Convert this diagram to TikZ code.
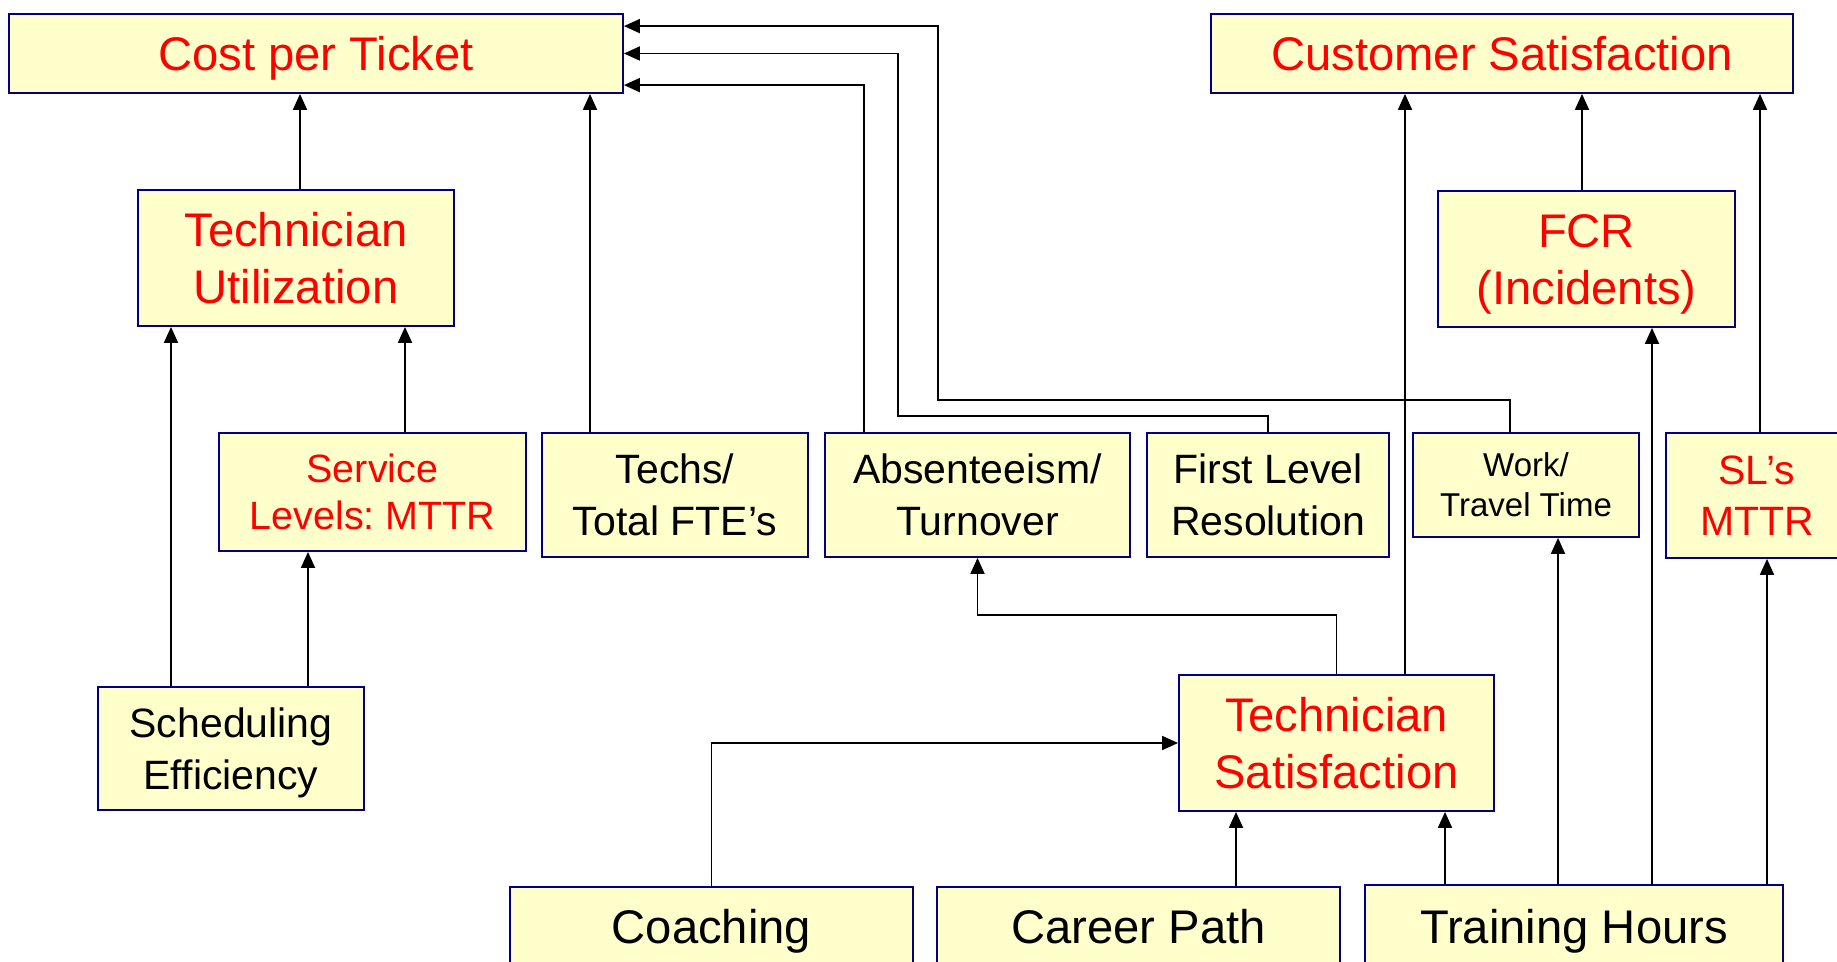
\documentclass[tikz,border=0pt]{standalone}
\usepackage{fontspec}
\setmainfont{Liberation Sans}
\usetikzlibrary{arrows.meta,calc}
\definecolor{boxfill}{HTML}{FFFFCC}
\definecolor{boxline}{HTML}{000080}
\definecolor{keyred}{HTML}{FF0000}
\frenchspacing

\begin{document}
\begin{tikzpicture}[x=0.5pt,y=-0.5pt,
  box/.style={draw=boxline, fill=boxfill, line width=0.9pt, inner sep=0pt, align=center},
  oneline/.style={text height=17pt, text depth=0pt},
  key/.style={text=keyred},
  big/.style={font=\fontsize{23.6}{28.5}\selectfont},
  mid/.style={font=\fontsize{20.5}{25.8}\selectfont},
  midsm/.style={font=\fontsize{19.75}{23.5}\selectfont},
  small/.style={font=\fontsize{16.5}{20}\selectfont},
  link/.style={line width=0.9pt, -{Triangle[length=8pt,width=7pt]}},
]
\useasboundingbox (0,0) rectangle (1837,962);
\clip (0,0) rectangle (1837,962);

% top row: outcomes
\node[box,key,big,oneline,minimum width=307pt,minimum height=39.5pt] (cost) at (316,53.5) {Cost per Ticket};
\node[box,key,big,oneline,minimum width=291pt,minimum height=39.5pt] (cust) at (1502,53.5) {Customer Satisfaction};

% second row
\node[box,key,big,minimum width=158pt,minimum height=68pt] (util) at (296,258) {Technician\\Utilization};
\node[box,key,big,minimum width=148.5pt,minimum height=68pt] (fcr) at (1586.5,259) {\rule{0pt}{22pt}FCR\\(Incidents)};

% third row: drivers
\node[box,key,midsm,minimum width=153.5pt,minimum height=59pt] (serv) at (372.5,492) {Service\\Levels: MTTR};
\node[box,mid,minimum width=133pt,minimum height=62pt] (techs) at (675,495) {Techs/\\Total FTE’s};
\node[box,mid,minimum width=152.5pt,minimum height=62pt] (absent) at (977.5,495) {Absenteeism/\\Turnover};
\node[box,mid,minimum width=121pt,minimum height=62pt] (first) at (1268,495) {First Level\\Resolution};
\node[box,small,minimum width=113pt,minimum height=52pt] (work) at (1526,485) {Work/\\Travel Time};
\node[box,key,mid,minimum width=91pt,minimum height=62.5pt] (sl) at (1757,495.5) {SL’s\\MTTR};

% fourth row
\node[box,mid,minimum width=133pt,minimum height=61.5pt] (sched) at (231,748.5) {\rule{0pt}{19.5pt}Scheduling\\Efficiency};
\node[box,key,big,minimum width=157.5pt,minimum height=68pt] (tsat) at (1336.5,743) {Technician\\Satisfaction};

% bottom row: levers
\node[box,big,oneline,minimum width=201.5pt,minimum height=39pt] (coach) at (711.5,926) {Coaching};
\node[box,big,oneline,minimum width=201.5pt,minimum height=39pt] (career) at (1138.5,926) {Career Path};
\node[box,big,oneline,minimum width=209pt,minimum height=41pt] (train) at (1574,926) {Training Hours};

% into Cost per Ticket
\draw[link] ($(util.north)+(4,0)$) coordinate (p1) -- (p1 |- cost.south);
\draw[link] ($(techs.north)+(-85,0)$) coordinate (p2) -- (p2 |- cost.south);
\draw[link] ($(absent.north)+(-113.5,0)$) |- ($(cost.north east)+(0,72)$);
\draw[link] (first.north) -- ++(0,-16) -| ($(cost.east)+(274,0)$) -- (cost.east);
\draw[link] ($(work.north)+(-16,0)$) -- ++(0,-32) -| ($(cost.north east)+(314,13)$) -- ($(cost.north east)+(0,13)$);

% into Technician Utilization and Service Levels
\draw[link] ($(serv.north)+(32.5,0)$) coordinate (p6) -- (p6 |- util.south);
\draw[link] ($(sched.north)+(-60,0)$) coordinate (p7) -- (p7 |- util.south);
\draw[link] ($(sched.north)+(77,0)$) coordinate (p8) -- (p8 |- serv.south);

% Technician Satisfaction outputs
\draw[link] (tsat.north) -- ++(0,-59) -| (absent.south);
\draw[link] ($(tsat.north)+(68.5,0)$) coordinate (p10) -- (p10 |- cust.south);

% into Customer Satisfaction
\draw[link] ($(fcr.north)+(-4.5,0)$) coordinate (p11) -- (p11 |- cust.south);
\draw[link] ($(sl.north)+(3,0)$) coordinate (p12) -- (p12 |- cust.south);

% levers
\draw[link] (coach.north) |- (tsat.west);
\draw[link] ($(career.north)+(97.5,0)$) coordinate (p14) -- (p14 |- tsat.south);
\draw[link] ($(train.north)+(-129,0)$) coordinate (p15) -- (p15 |- tsat.south);
\draw[link] ($(train.north)+(-16,0)$) coordinate (p16) -- (p16 |- work.south);
\draw[link] ($(train.north)+(78,0)$) coordinate (p17) -- (p17 |- fcr.south);
\draw[link] ($(train.north)+(193,0)$) coordinate (p18) -- (p18 |- sl.south);
\end{tikzpicture}
\end{document}
